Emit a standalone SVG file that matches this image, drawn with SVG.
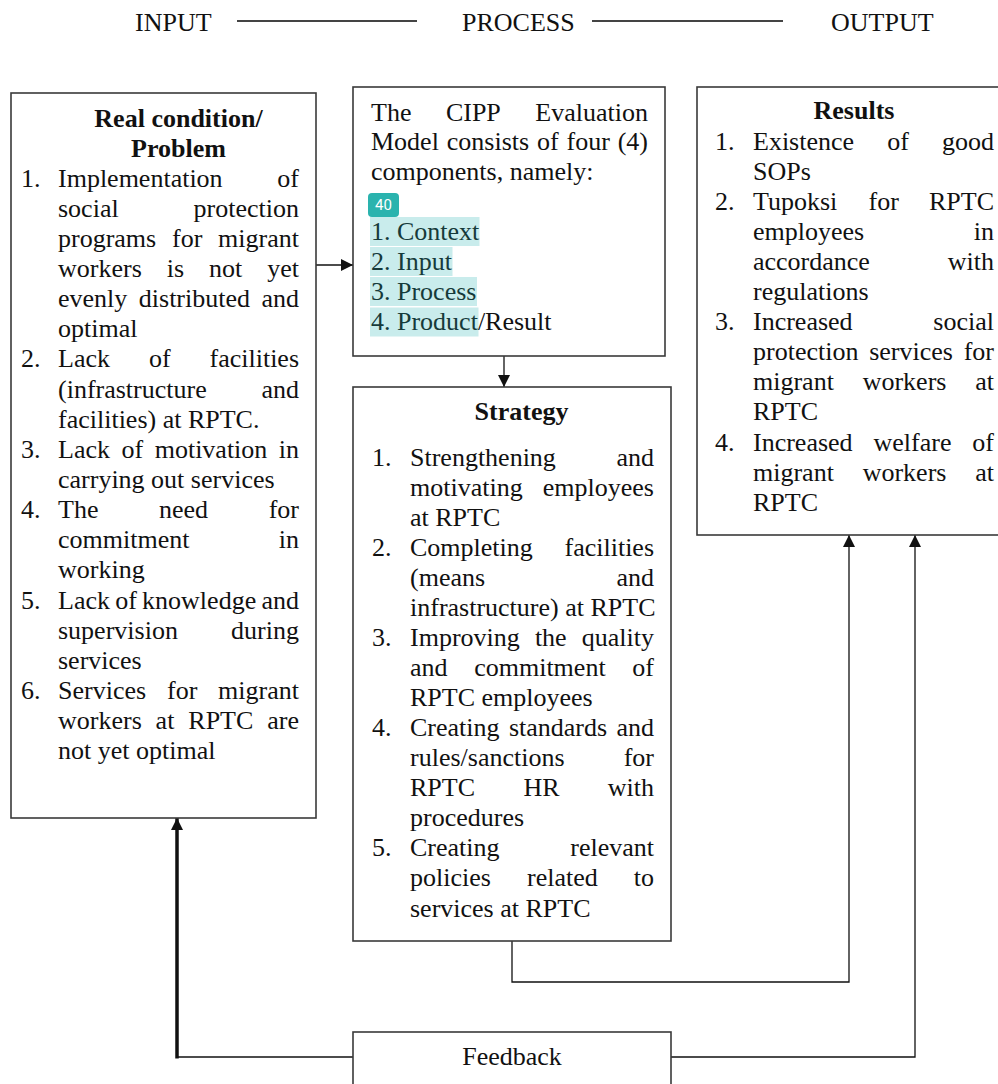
<svg xmlns="http://www.w3.org/2000/svg" width="998" height="1084" viewBox="0 0 998 1084">
<style>
.t{font-family:"Liberation Serif","Times New Roman",serif;font-size:26px;fill:#111}
.b{font-weight:bold}
.m{text-anchor:middle}
.h{fill:#163a3a}
.box{fill:#fff;stroke:#3a3a3a;stroke-width:1.6}
.c{fill:none;stroke:#111;stroke-width:1.3}
.hl{fill:#c9ecec}
.hd{fill:none;stroke:#444;stroke-width:2}
</style>
<defs>
<marker id="ah" markerUnits="userSpaceOnUse" markerWidth="12" markerHeight="12" refX="12" refY="6" orient="auto">
<path d="M0,0 L12,6 L0,12 z" fill="#111"/>
</marker>
</defs>
<rect width="998" height="1084" fill="#fff"/>

<g id="header">
<text class="t" x="135" y="30.5">INPUT</text>
<line class="hd" x1="237" y1="21" x2="417" y2="21"/>
<text class="t" x="462" y="30.5">PROCESS</text>
<line class="hd" x1="592" y1="21" x2="783" y2="21"/>
<text class="t" x="831" y="30.5">OUTPUT</text>
</g>

<g id="connectors">
<line class="c" x1="316" y1="265" x2="353" y2="265" marker-end="url(#ah)"/>
<line class="c" x1="504" y1="356" x2="504" y2="387" marker-end="url(#ah)"/>
<polyline class="c" points="512,941 512,982 849,982 849,535" marker-end="url(#ah)"/>
<polyline class="c" points="671,1057 915,1057 915,535" marker-end="url(#ah)"/>
<line class="c" x1="353" y1="1057" x2="177" y2="1057"/>
<line fill="none" stroke="#111" stroke-width="3.5" x1="177" y1="1058.5" x2="177" y2="818" marker-end="url(#ah)"/>
</g>

<g id="problem">
<rect class="box" x="11" y="93" width="305" height="725"/>
<text class="t b m" x="178.5" y="126.5">Real condition/</text>
<text class="t b m" x="178.5" y="156.5">Problem</text>
<text class="t"><tspan x="21" y="186.5">1.</tspan><tspan x="58" y="186.5">Implementation</tspan><tspan x="277.3" y="186.5">of</tspan></text>
<text class="t"><tspan x="58" y="216.6">social</tspan><tspan x="193.6" y="216.6">protection</tspan></text>
<text class="t"><tspan x="58" y="246.8">programs</tspan><tspan x="172" y="246.8">for</tspan><tspan x="218.1" y="246.8">migrant</tspan></text>
<text class="t"><tspan x="58" y="276.9">workers</tspan><tspan x="166.7" y="276.9">is</tspan><tspan x="209" y="276.9">not</tspan><tspan x="267.2" y="276.9">yet</tspan></text>
<text class="t"><tspan x="58" y="307.1">evenly</tspan><tspan x="138.8" y="307.1">distributed</tspan><tspan x="261.5" y="307.1">and</tspan></text>
<text class="t" x="58" y="337.2">optimal</text>
<text class="t"><tspan x="21" y="367.4">2.</tspan><tspan x="58" y="367.4">Lack</tspan><tspan x="148.9" y="367.4">of</tspan><tspan x="209.5" y="367.4">facilities</tspan></text>
<text class="t"><tspan x="58" y="397.5">(infrastructure</tspan><tspan x="261.5" y="397.5">and</tspan></text>
<text class="t" x="58" y="427.7">facilities) at RPTC.</text>
<text class="t"><tspan x="21" y="457.8">3.</tspan><tspan x="58" y="457.8">Lack</tspan><tspan x="121.5" y="457.8">of</tspan><tspan x="154.7" y="457.8">motivation</tspan><tspan x="278.8" y="457.8">in</tspan></text>
<text class="t" x="58" y="488">carrying out services</text>
<text class="t"><tspan x="21" y="518.1">4.</tspan><tspan x="58" y="518.1">The</tspan><tspan x="159" y="518.1">need</tspan><tspan x="268.7" y="518.1">for</tspan></text>
<text class="t"><tspan x="58" y="548.3">commitment</tspan><tspan x="278.8" y="548.3">in</tspan></text>
<text class="t" x="58" y="578.4">working</text>
<text class="t"><tspan x="21" y="608.6">5.</tspan><tspan x="58" y="608.6">Lack</tspan><tspan x="115.2" y="608.6">of</tspan><tspan x="142.1" y="608.6">knowledge</tspan><tspan x="261.5" y="608.6">and</tspan></text>
<text class="t"><tspan x="58" y="638.7">supervision</tspan><tspan x="231.1" y="638.7">during</tspan></text>
<text class="t" x="58" y="668.9">services</text>
<text class="t"><tspan x="21" y="699">6.</tspan><tspan x="58" y="699">Services</tspan><tspan x="167" y="699">for</tspan><tspan x="218.1" y="699">migrant</tspan></text>
<text class="t"><tspan x="58" y="729.2">workers</tspan><tspan x="155.6" y="729.2">at</tspan><tspan x="188.3" y="729.2">RPTC</tspan><tspan x="267.3" y="729.2">are</tspan></text>
<text class="t" x="58" y="759.4">not yet optimal</text>
</g>

<g id="cipp">
<rect class="box" x="353" y="87" width="312" height="269"/>
<text class="t"><tspan x="371" y="120.5">The</tspan><tspan x="445.9" y="120.5">CIPP</tspan><tspan x="535.3" y="120.5">Evaluation</tspan></text>
<text class="t"><tspan x="371" y="150">Model</tspan><tspan x="446.8" y="150">consists</tspan><tspan x="537" y="150">of</tspan><tspan x="566.6" y="150">four</tspan><tspan x="617.7" y="150">(4)</tspan></text>
<text class="t" x="371" y="179.5">components, namely:</text>
<rect x="368" y="193" width="31" height="24" rx="4" fill="#2ab3ae"/>
<text x="383.5" y="210" text-anchor="middle" font-family="Roboto,'Liberation Sans',sans-serif" font-size="15" fill="#fff">40</text>
<rect class="hl" x="370" y="217" width="109.5" height="29"/>
<rect class="hl" x="370" y="247" width="82.5" height="29"/>
<rect class="hl" x="370" y="277" width="107" height="29"/>
<rect class="hl" x="370" y="307.5" width="108.5" height="29"/>
<text class="t h"><tspan x="371" y="239.5">1.</tspan><tspan x="397" y="239.5">Context</tspan></text>
<text class="t h"><tspan x="371" y="269.5">2.</tspan><tspan x="397" y="269.5">Input</tspan></text>
<text class="t h"><tspan x="371" y="299.5">3.</tspan><tspan x="397" y="299.5">Process</tspan></text>
<text class="t"><tspan class="h" x="371" y="329.5">4.</tspan><tspan class="h" x="397" y="329.5">Product</tspan><tspan>/Result</tspan></text>
</g>

<g id="strategy">
<rect class="box" x="353" y="387" width="318" height="554"/>
<text class="t b m" x="521.5" y="420">Strategy</text>
<text class="t"><tspan x="372" y="466">1.</tspan><tspan x="410" y="466">Strengthening</tspan><tspan x="616.5" y="466">and</tspan></text>
<text class="t"><tspan x="410" y="496">motivating</tspan><tspan x="542.8" y="496">employees</tspan></text>
<text class="t" x="410" y="526">at RPTC</text>
<text class="t"><tspan x="372" y="556">2.</tspan><tspan x="410" y="556">Completing</tspan><tspan x="564.5" y="556">facilities</tspan></text>
<text class="t"><tspan x="410" y="586">(means</tspan><tspan x="616.5" y="586">and</tspan></text>
<text class="t" x="410" y="616">infrastructure) at RPTC</text>
<text class="t"><tspan x="372" y="646">3.</tspan><tspan x="410" y="646">Improving</tspan><tspan x="534.9" y="646">the</tspan><tspan x="581.8" y="646">quality</tspan></text>
<text class="t"><tspan x="410" y="676">and</tspan><tspan x="474.2" y="676">commitment</tspan><tspan x="632.3" y="676">of</tspan></text>
<text class="t" x="410" y="706">RPTC employees</text>
<text class="t"><tspan x="372" y="736">4.</tspan><tspan x="410" y="736">Creating</tspan><tspan x="508.9" y="736">standards</tspan><tspan x="616.5" y="736">and</tspan></text>
<text class="t"><tspan x="410" y="766">rules/sanctions</tspan><tspan x="623.7" y="766">for</tspan></text>
<text class="t"><tspan x="410" y="796">RPTC</tspan><tspan x="523.4" y="796">HR</tspan><tspan x="607.8" y="796">with</tspan></text>
<text class="t" x="410" y="826">procedures</text>
<text class="t"><tspan x="372" y="856">5.</tspan><tspan x="410" y="856">Creating</tspan><tspan x="570.3" y="856">relevant</tspan></text>
<text class="t"><tspan x="410" y="886">policies</tspan><tspan x="527" y="886">related</tspan><tspan x="633.8" y="886">to</tspan></text>
<text class="t" x="410" y="916.5">services at RPTC</text>
</g>

<g id="results">
<rect class="box" x="697" y="87" width="320" height="448"/>
<text class="t b m" x="854" y="119">Results</text>
<text class="t"><tspan x="715" y="149.5">1.</tspan><tspan x="753" y="149.5">Existence</tspan><tspan x="887.2" y="149.5">of</tspan><tspan x="942" y="149.5">good</tspan></text>
<text class="t" x="753" y="179.6">SOPs</text>
<text class="t"><tspan x="715" y="209.7">2.</tspan><tspan x="753" y="209.7">Tupoksi</tspan><tspan x="868.5" y="209.7">for</tspan><tspan x="929" y="209.7">RPTC</tspan></text>
<text class="t"><tspan x="753" y="239.8">employees</tspan><tspan x="973.8" y="239.8">in</tspan></text>
<text class="t"><tspan x="753" y="269.9">accordance</tspan><tspan x="947.8" y="269.9">with</tspan></text>
<text class="t" x="753" y="300">regulations</text>
<text class="t"><tspan x="715" y="330.1">3.</tspan><tspan x="753" y="330.1">Increased</tspan><tspan x="933.3" y="330.1">social</tspan></text>
<text class="t"><tspan x="753" y="360.2">protection</tspan><tspan x="869.2" y="360.2">services</tspan><tspan x="963.7" y="360.2">for</tspan></text>
<text class="t"><tspan x="753" y="390.3">migrant</tspan><tspan x="862.7" y="390.3">workers</tspan><tspan x="975.2" y="390.3">at</tspan></text>
<text class="t" x="753" y="420.4">RPTC</text>
<text class="t"><tspan x="715" y="450.5">4.</tspan><tspan x="753" y="450.5">Increased</tspan><tspan x="873.5" y="450.5">welfare</tspan><tspan x="972.3" y="450.5">of</tspan></text>
<text class="t"><tspan x="753" y="480.6">migrant</tspan><tspan x="862.7" y="480.6">workers</tspan><tspan x="975.2" y="480.6">at</tspan></text>
<text class="t" x="753" y="510.7">RPTC</text>
</g>

<g id="feedback">
<rect class="box" x="353" y="1032" width="318" height="70"/>
<text class="t m" x="512" y="1065">Feedback</text>
</g>
</svg>
